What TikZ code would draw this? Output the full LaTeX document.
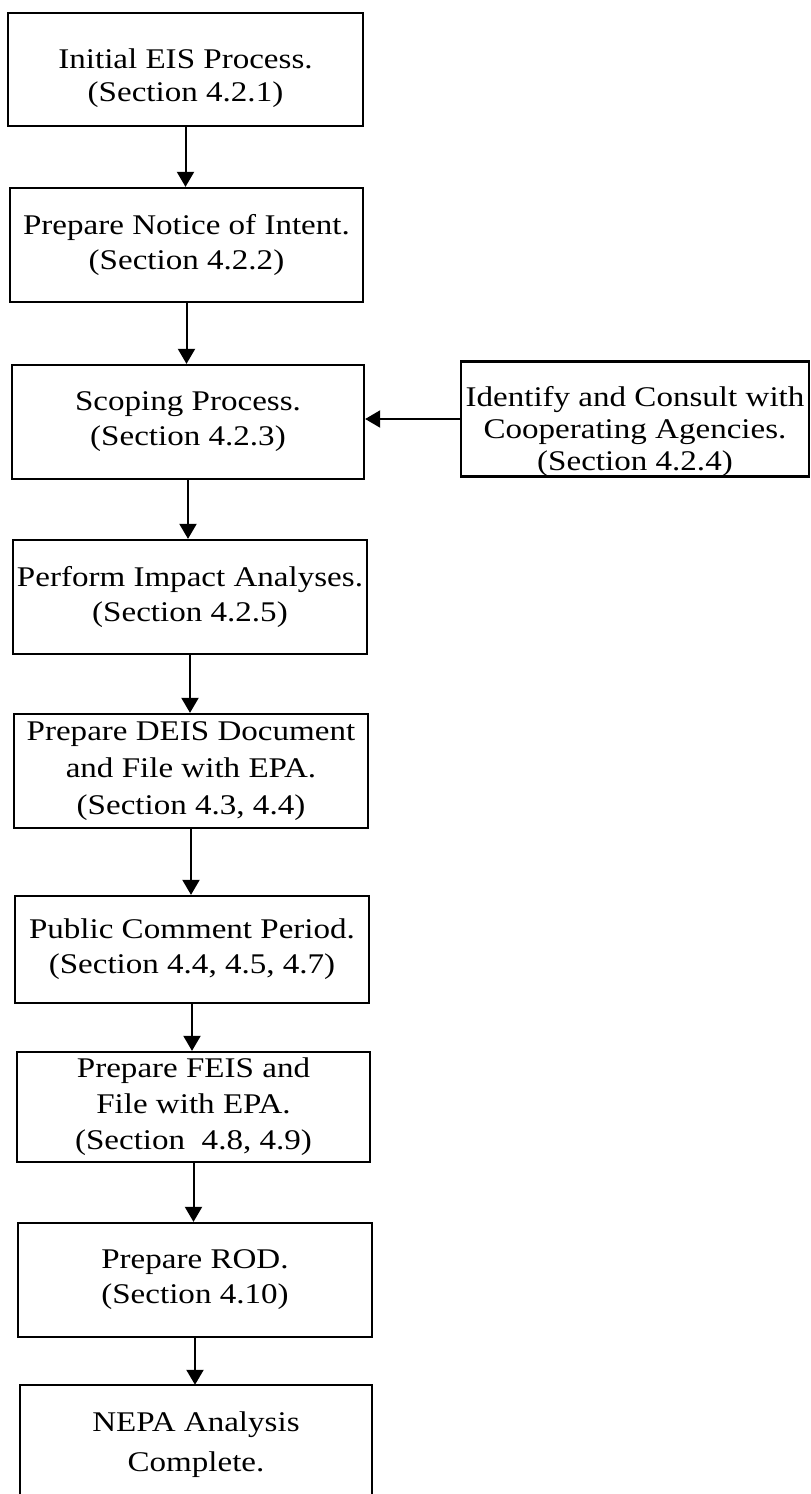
\documentclass[tikz,border=0pt]{standalone}
\usepackage{fontspec}
\setmainfont[FakeStretch=1.16]{Liberation Serif}
\usetikzlibrary{arrows.meta}
\tikzset{
  stepbox/.style={draw, line width=2.3pt, rectangle, inner sep=0pt, align=center,
    font=\fontsize{28.5}{35}\selectfont},
  openbox/.style={rectangle, inner sep=0pt, align=center,
    font=\fontsize{28.5}{40}\selectfont},
  flow/.style={line width=2pt, -{Triangle[width=17pt,length=15pt]}}
}
\begin{document}
\begin{tikzpicture}[x=1pt,y=-1pt]
\useasboundingbox (0,0) rectangle (811,1494);
\node[stepbox, minimum width=355pt, minimum height=113pt, font=\fontsize{28.5}{33}\selectfont] (b1) at (185.5,69.5) {\rule{0pt}{37pt}Initial EIS Process.\\(Section 4.2.1)};
\node[stepbox, minimum width=353pt, minimum height=114pt] (b2) at (186.5,245) {Prepare Notice of Intent.\\(Section 4.2.2)};
\node[stepbox, minimum width=352pt, minimum height=114pt] (b3) at (188,422) {Scoping Process.\\(Section 4.2.3)};
\node[stepbox, minimum width=348pt, minimum height=112pt, font=\fontsize{28.5}{32}\selectfont] (b4) at (635,419) {\rule{0pt}{45pt}Identify and Consult with\\Cooperating Agencies.\\(Section 4.2.4)};
\node[stepbox, minimum width=354pt, minimum height=114pt] (b5) at (190,597) {Perform Impact Analyses.\\(Section 4.2.5)};
\node[stepbox, minimum width=354pt, minimum height=114pt, font=\fontsize{28.5}{37}\selectfont] (b6) at (191,771) {Prepare DEIS Document\\and File with EPA.\\(Section 4.3, 4.4)};
\node[stepbox, minimum width=354pt, minimum height=107pt] (b7) at (192,949.5) {Public Comment Period.\\(Section 4.4, 4.5, 4.7)};
\node[stepbox, minimum width=353pt, minimum height=110pt, font=\fontsize{28.5}{36}\selectfont] (b8) at (193.5,1107) {Prepare FEIS and\\File with EPA.\\(Section\ \ 4.8, 4.9)};
\node[stepbox, minimum width=354pt, minimum height=114pt] (b9) at (195,1280) {Prepare ROD.\\(Section 4.10)};
\node[openbox, minimum width=352pt, minimum height=109pt] (b10) at (196,1439.5) {\rule{0pt}{31pt}NEPA Analysis\\Complete.};
\draw[line width=2.3pt] (b10.south west) -- (b10.north west) -- (b10.north east) -- (b10.south east);
\draw[flow] (b1.south) -- (b1.south |- b2.north);
\draw[flow] (b2.south) -- (b2.south |- b3.north);
\draw[flow] (b3.south) -- (b3.south |- b5.north);
\draw[flow] (b5.south) -- (b5.south |- b6.north);
\draw[flow] (b6.south) -- (b6.south |- b7.north);
\draw[flow] (b7.south) -- (b7.south |- b8.north);
\draw[flow] (b8.south) -- (b8.south |- b9.north);
\draw[flow] (b9.south) -- (b9.south |- b10.north);
\draw[flow] (b4.west) -- (b3.east |- b4.west);
\end{tikzpicture}
\end{document}
